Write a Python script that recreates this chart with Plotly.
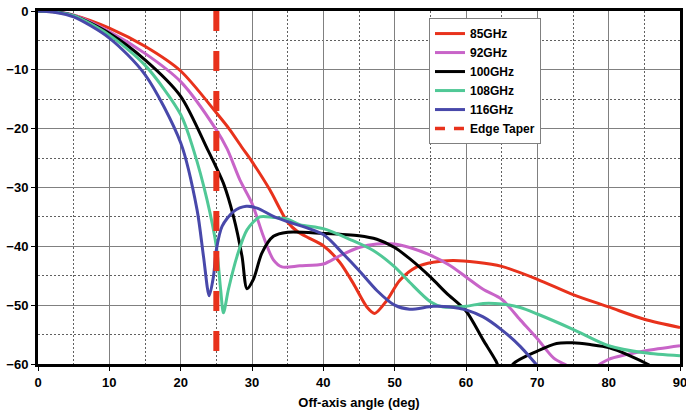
import plotly.graph_objects as go

# ---------------- data ----------------
red_x = [0, 2.5, 5, 10, 15, 20, 25, 26.9, 28.6, 30, 32.5, 33.9, 35, 36.5, 38, 40, 42.3, 44.2, 46.1, 47.2, 48.9, 50.7, 53.1, 55.4, 58.2, 61.5, 65, 70, 75, 80, 85, 90]
red_y = [0, -0.15, -0.7, -2.9, -6.0, -10.2, -17.3, -20.2, -23.2, -25.6, -30.4, -33.6, -35.9, -37.6, -38.6, -39.9, -42.7, -46.3, -50.3, -51.4, -49.2, -45.8, -43.5, -42.7, -42.4, -42.7, -43.4, -45.6, -48.2, -50.3, -52.4, -53.8]

mag_x = [0, 2.5, 5, 10, 15, 20, 25, 26.5, 28.3, 30, 31.6, 33, 34.2, 36.7, 40, 42.3, 45, 47.5, 50, 52.1, 55, 57.7, 60, 62.4, 65, 67.6, 70, 72.3, 74.2, 76.5, 78.8, 80, 85, 90]
mag_y = [0, -0.15, -0.7, -3.5, -7.2, -12.0, -20.2, -23.4, -28.7, -32.7, -38.3, -42.3, -43.5, -43.3, -43.0, -41.6, -40.2, -39.6, -39.6, -40.2, -41.5, -43.2, -45.2, -47.3, -49.0, -52.5, -55.7, -59.0, -60.3, -62.0, -60.0, -59.2, -57.8, -56.9]

blk_x = [0, 2.5, 5, 10, 15, 20, 23.8, 25, 26, 27.4, 28.6, 29.3, 30.2, 31.4, 33, 35, 40, 45, 47.5, 50, 52.1, 55, 57.3, 60, 62.4, 64.2, 65.5, 66.6, 70, 72.7, 75, 77.4, 80, 83, 85.4, 90]
blk_y = [0, -0.15, -0.8, -3.8, -8.3, -14.5, -23.6, -26.6, -29.3, -34.9, -41.7, -47.2, -45.6, -41.1, -38.3, -37.6, -37.8, -38.2, -38.8, -40.2, -42.1, -45.2, -48.0, -51.0, -55.9, -59.5, -63.0, -60.0, -57.8, -56.5, -56.4, -56.7, -57.2, -58.6, -60.0, -63.5]

grn_x = [0, 2.5, 5, 10, 15, 20, 21.8, 23.7, 25, 25.6, 26, 26.7, 27.9, 29.3, 31.1, 33, 35, 36.7, 40, 43.7, 47, 50, 52.1, 55, 56.8, 60, 62.4, 65, 67.6, 70, 75, 80, 85, 90]
grn_y = [0, -0.2, -0.8, -4.1, -9.2, -17.6, -23.6, -32.1, -40.0, -47.3, -51.3, -47.3, -41.7, -37.2, -35.0, -35.1, -35.4, -36.3, -37.0, -38.8, -40.7, -43.5, -46.1, -49.4, -50.3, -50.2, -49.7, -49.8, -50.4, -51.5, -54.1, -56.9, -58.1, -58.6]

blu_x = [0, 2.5, 5, 10, 15, 20, 22.3, 23.2, 24, 24.6, 25, 25.8, 27.4, 29.2, 30.7, 33, 35, 40, 42.8, 45, 47.5, 50, 52.1, 55.4, 57.8, 60, 62.4, 65, 67.6, 69.8, 72]
blu_y = [0, -0.25, -1.0, -4.6, -10.8, -22.4, -33.8, -41.7, -48.4, -45.1, -40.6, -36.6, -34.1, -33.2, -33.5, -34.9, -35.8, -38.0, -41.3, -44.1, -47.5, -50.0, -50.7, -50.2, -50.3, -50.8, -52.0, -54.2, -57.0, -60.0, -63.0]

edge_x = [25, 25]
edge_y = [0, -60]

names = ["85GHz", "92GHz", "100GHz", "108GHz", "116GHz"]
colors = ["#E8321C", "#C864C8", "#000000", "#50C896", "#4848AA"]
xs = [red_x, mag_x, blk_x, grn_x, blu_x]
ys = [red_y, mag_y, blk_y, grn_y, blu_y]

x_ticks = [0, 10, 20, 30, 40, 50, 60, 70, 80, 90]
y_ticks = [0, -10, -20, -30, -40, -50, -60]

FONT = "Liberation Sans, Arial, sans-serif"

fig = go.Figure()
for n, c, x, y in zip(names, colors, xs, ys):
    fig.add_trace(go.Scatter(x=x, y=y, name=n, mode="lines",
                             line=dict(color=c, width=3, shape="spline", smoothing=0.8)))
# edge taper marker line (plot) and its legend entry (finer dash, as in the reference legend)
fig.add_trace(go.Scatter(x=edge_x, y=edge_y, name="Edge Taper", mode="lines",
                         showlegend=False, legendgroup="edge",
                         line=dict(color="#E8321C", width=6, dash="20px,20px")))
fig.add_trace(go.Scatter(x=[None], y=[None], name="Edge Taper", mode="lines",
                         legendgroup="edge",
                         line=dict(color="#E8321C", width=3.5, dash="10px,9px")))

axis_common = dict(
    showline=True, linecolor="black", linewidth=3, mirror=True,
    showgrid=True, gridcolor="#808080", gridwidth=1,
    ticks="outside", ticklen=4, tickcolor="black", tickwidth=1,
    tickfont=dict(family=FONT, size=13, color="black", weight="bold"),
    zeroline=False, automargin=False, ticklabeloverflow="allow",
)

fig.update_xaxes(range=[0, 90], tickvals=x_ticks,
                 minor=dict(dtick=5, tick0=0, showgrid=True, gridcolor="#606060",
                            griddash="2px,2px", gridwidth=1),
                 title=dict(text="Off-axis angle (deg)", standoff=10,
                            font=dict(family=FONT, size=13, color="black", weight="bold")),
                 **axis_common)
fig.update_yaxes(range=[-60, 0], tickvals=y_ticks,
                 minor=dict(dtick=5, tick0=0, showgrid=True, gridcolor="#606060",
                            griddash="2px,2px", gridwidth=1),
                 **axis_common)

fig.update_layout(
    width=686, height=412,
    margin=dict(l=38, r=6, t=11, b=48),
    plot_bgcolor="white", paper_bgcolor="white",
    font=dict(family=FONT, color="black"),
    legend=dict(x=0.609, y=0.98, xanchor="left", yanchor="top",
                bgcolor="white", bordercolor="#808080", borderwidth=1,
                font=dict(family=FONT, size=12, color="black", weight="bold"),
                tracegroupgap=0, itemwidth=30),
    showlegend=True,
)

fig.write_html("out.html", config={"displayModeBar": False},
               post_script="document.body.style.margin='0';")
